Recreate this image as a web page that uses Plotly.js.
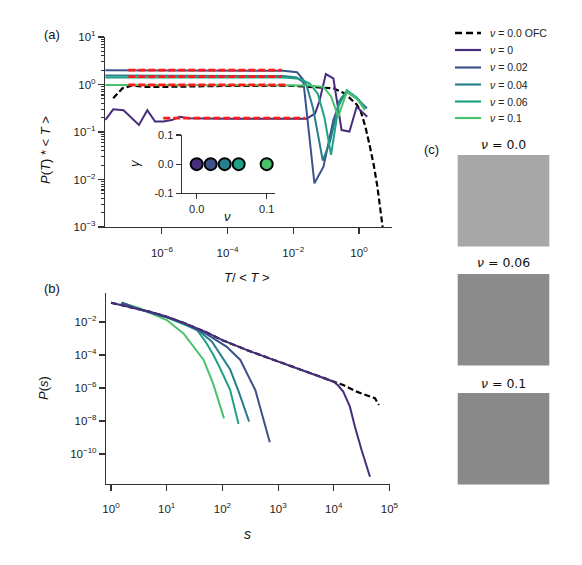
<!DOCTYPE html>
<html>
<head>
<meta charset="utf-8">
<script src="https://cdn.plot.ly/plotly-3.0.1.min.js"></script>
<style>html,body{margin:0;padding:0;background:#fff;}#chart{width:582px;height:565px;}</style>
</head>
<body>
<div id="chart"></div>
<script>
// ---------- Panel (a): P(T)*<T> vs T/<T> ----------
const ofcLabel = '<i>ν</i> = 0.0 OFC';
const nuLabels = ['<i>ν</i> = 0', '<i>ν</i> = 0.02', '<i>ν</i> = 0.04', '<i>ν</i> = 0.06', '<i>ν</i> = 0.1'];
const nuColors = ['#472d7b', '#3b528b', '#277f8e', '#1fa187', '#4ac16d'];

const aOfcX = [3.3e-8, 6.3e-8, 1.26e-7, 3.2e-7, 1e-6, 1e-4, 1e-2, 0.1, 0.166, 0.372, 0.851, 1.12, 1.58, 2.14, 2.82, 3.63, 4.47, 5.25];
const aOfcY = [0.513, 0.832, 0.955, 0.891, 0.891, 0.933, 0.933, 0.871, 0.832, 0.646, 0.38, 0.28, 0.126, 0.0501, 0.02, 0.00708, 0.00251, 0.001];

const aNu0X = [1.9e-8, 3.3e-8, 6.8e-8, 1.2e-7, 2.0e-7, 3.6e-7, 6.2e-7, 1.1e-6, 2.0e-6, 3.5e-6, 6.3e-6, 1e-4, 1e-2, 2.5e-2, 4.6e-2, 6.2e-2, 9.8e-2, 0.166, 0.295, 0.513, 0.85, 1.78];
const aNu0Y = [0.18, 0.30, 0.288, 0.195, 0.141, 0.288, 0.166, 0.166, 0.178, 0.209, 0.195, 0.19, 0.19, 0.19, 0.245, 0.437, 1.66, 1.35, 0.110, 0.102, 0.339, 0.209];

const aNu002X = [1.9e-8, 1e-6, 1e-4, 5e-3, 1.3e-2, 2e-2, 4.4e-2, 8.3e-2, 0.166, 0.282, 0.427, 0.871, 1.74];
const aNu002Y = [2.0, 2.0, 2.0, 1.95, 1.82, 1.26, 0.0083, 0.0186, 0.178, 0.5, 0.71, 0.5, 0.316];

const aNu004X = [1.9e-8, 1e-6, 1e-4, 5e-3, 1.26e-2, 2.5e-2, 4e-2, 7.9e-2, 0.132, 0.251, 0.427, 0.871, 1.58];
const aNu004Y = [1.55, 1.55, 1.55, 1.51, 1.41, 1.0, 0.316, 0.0251, 0.063, 0.447, 0.708, 0.501, 0.316];

const aNu006X = [1.9e-8, 1e-6, 1e-4, 5e-3, 1.58e-2, 3.16e-2, 5.6e-2, 8.9e-2, 0.141, 0.24, 0.427, 0.871, 1.58];
const aNu006Y = [1.41, 1.41, 1.41, 1.40, 1.32, 1.05, 0.631, 0.2, 0.0331, 0.355, 0.759, 0.525, 0.316];

const aNu01X = [1.9e-8, 1e-6, 1e-4, 1e-2, 3.16e-2, 8.3e-2, 0.141, 0.234, 0.427, 0.871, 1.51];
const aNu01Y = [0.98, 0.98, 0.98, 0.98, 0.955, 0.891, 0.562, 0.209, 0.708, 0.501, 0.288];

// red dashed fits (plateau levels)
const fitLevel = [2.0, 1.46, 0.98, 0.195];
const fitStart = [9.5e-8, 9.5e-8, 9.5e-8, 1.1e-6];
const fitEnd = [4.5e-3, 4.5e-3, 6e-3, 2.3e-2];

// inset gamma vs nu
const insetNu = [0, 0.02, 0.04, 0.06, 0.1];
const insetGamma = [0, 0, 0, 0, 0];

// ---------- Panel (b): P(s) vs s ----------
const bOfcS = [1, 2, 5, 10, 20, 50, 100, 300, 1000, 3000, 10000, 14800, 25700, 55000, 64600];
const bOfcP = [0.148, 0.0891, 0.0417, 0.0209, 8.91e-3, 2.51e-3, 7.94e-4, 1.78e-4, 3.98e-5, 1e-5, 2.4e-6, 1.51e-6, 6.03e-7, 2.4e-7, 9.33e-8];

const bNu0S = [1, 2, 5, 10, 20, 50, 100, 300, 1000, 3000, 10000, 12000, 14800, 19500, 24000, 31600, 44700];
const bNu0P = [0.148, 0.0891, 0.0417, 0.0209, 8.91e-3, 2.51e-3, 7.94e-4, 1.78e-4, 3.98e-5, 1e-5, 2.4e-6, 1.41e-6, 6.03e-7, 7.41e-8, 4.47e-9, 1.74e-10, 4.17e-12];

const bNu002S = [1.55, 3, 10, 20, 46, 120, 210, 390, 710];
const bNu002P = [0.148, 0.0631, 0.02, 8.91e-3, 2.4e-3, 3.16e-4, 5.01e-5, 7.59e-7, 5.13e-10];

const bNu004S = [1.55, 3, 10, 20, 40, 65, 138, 200, 302];
const bNu004P = [0.148, 0.0631, 0.02, 8.51e-3, 2.51e-3, 6.46e-4, 1.35e-5, 5.01e-7, 9.12e-9];

const bNu006S = [1.55, 3, 10, 20, 35, 50, 69, 91, 138, 195];
const bNu006P = [0.148, 0.0631, 0.0191, 7.59e-3, 3.31e-3, 6.31e-4, 1e-4, 1.58e-5, 7.59e-7, 6.61e-9];

const bNu01S = [1.55, 3.16, 10, 20, 46, 68, 107];
const bNu01P = [0.148, 0.0708, 0.0132, 2.04e-3, 5.01e-5, 1.91e-6, 1.45e-8];

// ---------- Panel (c): lattice snapshots ----------
const snapTitles = ['<i>ν</i> = 0.0', '<i>ν</i> = 0.06', '<i>ν</i> = 0.1'];
const snapGray = ['#a7a7a7', '#8b8b8b', '#898989'];

// ---------- tick labels ----------
const aXTickVals = [1e-6, 1e-4, 1e-2, 1];
const aXTickText = ['10<sup>−6</sup>', '10<sup>−4</sup>', '10<sup>−2</sup>', '10<sup>0</sup>'];
const aYTickVals = [1e-3, 1e-2, 1e-1, 1, 10];
const aYTickText = ['10<sup>−3</sup>', '10<sup>−2</sup>', '10<sup>−1</sup>', '10<sup>0</sup>', '10<sup>1</sup>'];
const bXTickVals = [1, 10, 100, 1000, 1e4, 1e5];
const bXTickText = ['10<sup>0</sup>', '10<sup>1</sup>', '10<sup>2</sup>', '10<sup>3</sup>', '10<sup>4</sup>', '10<sup>5</sup>'];
const bYTickVals = [1e-10, 1e-8, 1e-6, 1e-4, 1e-2];
const bYTickText = ['10<sup>−10</sup>', '10<sup>−8</sup>', '10<sup>−6</sup>', '10<sup>−4</sup>', '10<sup>−2</sup>'];

// ---------- build traces ----------
const W = 582, H = 565;
const px = v => v / W;
const py = v => 1 - v / H;
const FONT = 'Liberation Sans, Arial, sans-serif';

const aX = [aNu0X, aNu002X, aNu004X, aNu006X, aNu01X];
const aY = [aNu0Y, aNu002Y, aNu004Y, aNu006Y, aNu01Y];
const bS = [bNu0S, bNu002S, bNu004S, bNu006S, bNu01S];
const bP = [bNu0P, bNu002P, bNu004P, bNu006P, bNu01P];

const traces = [];
traces.push({x: aOfcX, y: aOfcY, xaxis: 'x', yaxis: 'y', mode: 'lines', name: ofcLabel, showlegend: false,
  line: {color: '#000', width: 2.2, dash: '6px,3px'}});
for (let i = 0; i < 5; i++) {
  traces.push({x: aX[i], y: aY[i], xaxis: 'x', yaxis: 'y', mode: 'lines', name: nuLabels[i], showlegend: false,
    line: {color: nuColors[i], width: 2}});
}
for (let i = 0; i < fitLevel.length; i++) {
  traces.push({x: [fitStart[i], fitEnd[i]], y: [fitLevel[i], fitLevel[i]], xaxis: 'x', yaxis: 'y',
    mode: 'lines', showlegend: false, line: {color: '#ff1a1a', width: 2.8, dash: '7px,3px'}});
}
traces.push({x: insetNu, y: insetGamma, xaxis: 'x3', yaxis: 'y3', mode: 'markers', showlegend: false,
  marker: {size: 12, color: nuColors, line: {color: '#000', width: 2}}});
traces.push({x: bOfcS, y: bOfcP, xaxis: 'x2', yaxis: 'y2', mode: 'lines', showlegend: false,
  line: {color: '#000', width: 2.2, dash: '6px,3px'}});
for (let i = 4; i >= 0; i--) {
  traces.push({x: bS[i], y: bP[i], xaxis: 'x2', yaxis: 'y2', mode: 'lines', showlegend: false,
    line: {color: nuColors[i], width: 2}});
}

const axisCommon = {showgrid: false, zeroline: false, showline: true, linecolor: '#333', linewidth: 1.1,
  ticks: 'outside', tickcolor: '#333', tickwidth: 1.1, ticklen: 6, tickfont: {family: FONT, size: 11.5, color: '#222'}};

const ann = (text, x, y, size, extra) => Object.assign({text: text, x: px(x), y: py(y), xref: 'paper', yref: 'paper',
  showarrow: false, xanchor: 'center', yanchor: 'middle', font: {family: FONT, size: size, color: '#111'}}, extra || {});

const layout = {
  width: W, height: H, margin: {l: 0, r: 0, t: 0, b: 0},
  paper_bgcolor: '#fff', plot_bgcolor: 'rgba(0,0,0,0)',
  font: {family: FONT, color: '#222'},
  showlegend: false,
  xaxis: Object.assign({}, axisCommon, {type: 'log', domain: [px(105), px(392)], range: [-7.732, 1.005], anchor: 'y',
    tickmode: 'array', tickvals: aXTickVals, ticktext: aXTickText, ticklabelstandoff: 9}),
  yaxis: Object.assign({}, axisCommon, {type: 'log', domain: [py(227), py(37)], range: [-3, 1], anchor: 'x',
    tickmode: 'array', tickvals: aYTickVals, ticktext: aYTickText,
    minor: {ticks: 'outside', ticklen: 3, tickcolor: '#333', dtick: 'D1', showgrid: false}}),
  xaxis2: Object.assign({}, axisCommon, {type: 'log', domain: [px(106), px(390)], range: [-0.09, 5.01], anchor: 'y2',
    tickmode: 'array', tickvals: bXTickVals, ticktext: bXTickText, ticklabelstandoff: 8}),
  yaxis2: Object.assign({}, axisCommon, {type: 'log', domain: [py(484), py(293)], range: [-11.82, -0.24], anchor: 'x2',
    tickmode: 'array', tickvals: bYTickVals, ticktext: bYTickText}),
  xaxis3: Object.assign({}, axisCommon, {domain: [px(181.7), px(275)], range: [-0.0214, 0.1119], anchor: 'y3',
    tickmode: 'array', tickvals: [0, 0.1], ticktext: ['0.0', '0.1'], ticklen: 5, tickfont: {family: FONT, size: 11, color: '#222'}}),
  yaxis3: Object.assign({}, axisCommon, {domain: [py(193.3), py(135)], range: [-0.1, 0.1], anchor: 'x3',
    tickmode: 'array', tickvals: [-0.1, 0, 0.1], ticktext: ['-0.1', '0.0', '0.1'], ticklen: 5, tickfont: {family: FONT, size: 11, color: '#222'}}),
  shapes: [],
  annotations: [
    ann('(a)', 52, 34, 13),
    ann('(b)', 52, 288, 13),
    ann('(c)', 431, 149, 13),
    ann('<i>P</i>(<i>T</i>) * < <i>T</i> >', 46, 150, 13, {textangle: -90}),
    ann('<i>T</i>/ < <i>T</i> >', 247, 277, 13),
    ann('<i>P</i>(<i>s</i>)', 43, 388, 13, {textangle: -90}),
    ann('<i>s</i>', 247, 534, 14),
    ann('<i>γ</i>', 134, 163, 13, {textangle: -90}),
    ann('<i>ν</i>', 227, 216, 13)
  ]
};

// legend (drawn from the same labels and colours as the traces)
const legLabels = [ofcLabel].concat(nuLabels);
const legColors = ['#000'].concat(nuColors);
const legRowY = [33, 50, 67.5, 84.5, 101.5, 118];
for (let i = 0; i < legLabels.length; i++) {
  layout.shapes.push({type: 'line', xref: 'paper', yref: 'paper', x0: px(455), x1: px(481),
    y0: py(legRowY[i]), y1: py(legRowY[i]),
    line: {color: legColors[i], width: i === 0 ? 2.4 : 2.2, dash: i === 0 ? '7px,4px' : 'solid'}});
  layout.annotations.push(ann(legLabels[i], 488, legRowY[i], 10.5, {xanchor: 'left',
    font: {family: FONT, size: 10.5, color: '#222'}}));
}

const snapTop = [155, 274, 393];
const snapTitleY = [145, 263, 383];
for (let i = 0; i < 3; i++) {
  layout.shapes.push({type: 'rect', xref: 'paper', yref: 'paper', x0: px(457.7), x1: px(549.3),
    y0: py(snapTop[i] + 91.5), y1: py(snapTop[i]), fillcolor: snapGray[i], line: {width: 0}, layer: 'below'});
  layout.annotations.push(ann(snapTitles[i], 503.5, snapTitleY[i], 12.5,
    {font: {family: 'DejaVu Sans, sans-serif', size: 12.5, color: '#111'}}));
}

Plotly.newPlot('chart', traces, layout, {displayModeBar: false, staticPlot: true});
</script>
</body>
</html>
